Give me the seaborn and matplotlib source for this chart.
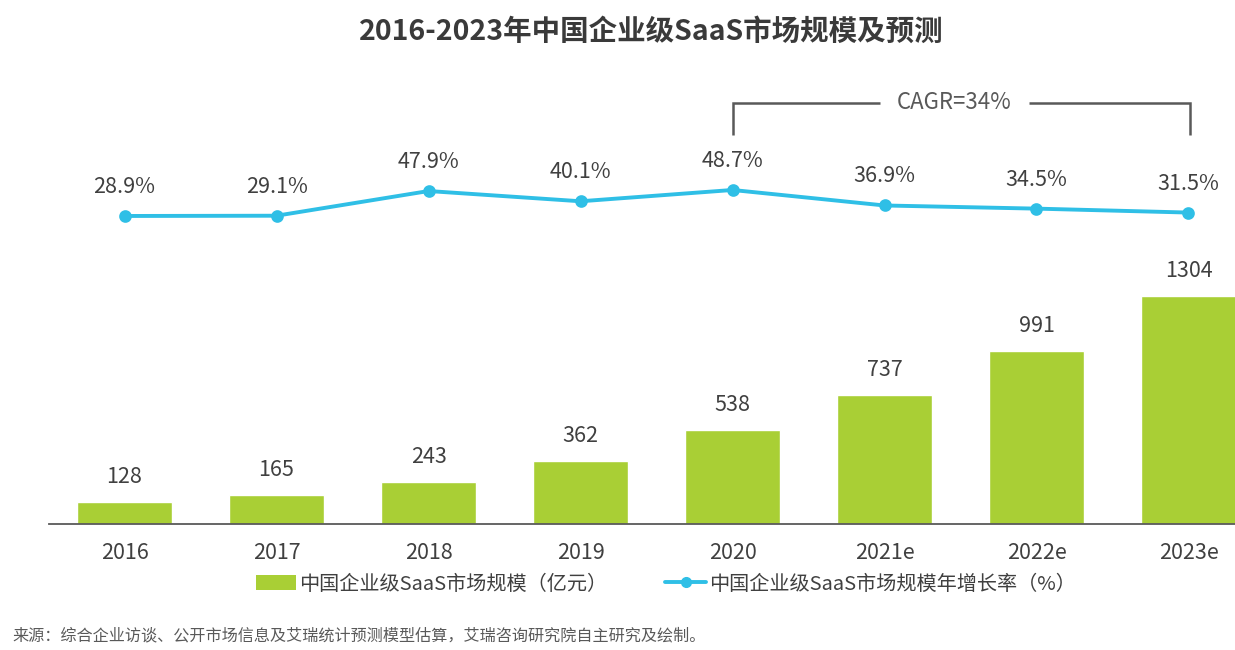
import matplotlib
matplotlib.use("Agg")
import matplotlib.pyplot as plt
import seaborn as sns
import pandas as pd
from matplotlib.patches import Patch
from matplotlib.lines import Line2D

# ---- data ----
years = ["2016", "2017", "2018", "2019", "2020", "2021e", "2022e", "2023e"]
market_size = [128, 165, 243, 362, 538, 737, 991, 1304]
growth_rate = [28.9, 29.1, 47.9, 40.1, 48.7, 36.9, 34.5, 31.5]
title = "2016-2023年中国企业级SaaS市场规模及预测"
bar_label = "中国企业级SaaS市场规模（亿元）"
line_label = "中国企业级SaaS市场规模年增长率（%）"
cagr_text = "CAGR=34%"
source_text = "来源：综合企业访谈、公开市场信息及艾瑞统计预测模型估算，艾瑞咨询研究院自主研究及绘制。"

GREEN = "#A9CF35"
CYAN = "#2FBFE6"
TXT = "#404040"
GRAY = "#595959"

sns.set_theme(style="white")
plt.rcParams["font.family"] = ["Noto Sans CJK SC", "DejaVu Sans"]

df = pd.DataFrame({"year": years, "size": market_size, "growth": growth_rate})

W, H = 1235, 650
fig = plt.figure(figsize=(W / 100, H / 100), dpi=100)
ax = fig.add_axes([49 / W, 126 / H, (W - 49) / W, 464 / H])

sns.barplot(data=df, x="year", y="size", color=GREEN, width=0.625,
            saturation=1, ax=ax)
for i, v in enumerate(market_size):
    ax.annotate(str(v), (i, v), xytext=(0, 10), textcoords="offset points",
                ha="center", va="bottom", fontsize=15.5, color=TXT)

ax.set_ylim(0, 2654)
ax.set_xlim(-0.497, 7.306)
ax.set_xlabel("")
ax.set_ylabel("")
ax.set_yticks([])
for s in ["top", "right", "left"]:
    ax.spines[s].set_visible(False)
ax.spines["bottom"].set_color(GRAY)
ax.spines["bottom"].set_linewidth(1.3)
ax.tick_params(axis="x", length=0, pad=13, labelsize=15.5, labelcolor=TXT)

ax2 = ax.twinx()
sns.pointplot(data=df, x="year", y="growth", color=CYAN, markers="o",
              linestyles="-", markersize=7, linewidth=2.8, ax=ax2)
for i, v in enumerate(growth_rate):
    ax2.annotate(f"{v}%", (i, v), xytext=(0, 13), textcoords="offset points",
                 ha="center", va="bottom", fontsize=15.5, color=TXT)
ax2.set_ylim(-205.7, 147.7)
ax2.set_xlim(-0.497, 7.306)
ax2.set_yticks([])
ax2.set_ylabel("")
ax2.set_xlabel("")
for s in ["top", "right", "left", "bottom"]:
    ax2.spines[s].set_visible(False)

# CAGR bracket from 2020 to 2023e
x0, x1 = years.index("2020"), years.index("2023e") + 0.01
ytop, ybot = 114.9, 90.6
xm = (x0 + x1) / 2 - 0.045
gap = 0.49
ax2.plot([x0, x0, xm - gap], [ybot, ytop, ytop], color=GRAY, lw=1.8,
         solid_capstyle="butt", solid_joinstyle="miter", clip_on=False)
ax2.plot([xm + gap, x1, x1], [ytop, ytop, ybot], color=GRAY, lw=1.8,
         solid_capstyle="butt", solid_joinstyle="miter", clip_on=False)
ax2.text(xm, ytop + 0.8, cagr_text, ha="center", va="center",
         fontsize=16, color=GRAY)

fig.text(0.527, 1 - 32 / H, title, ha="center", va="center",
         fontsize=20.5, fontweight="bold", color="#3a3a3a")

handles = [Patch(facecolor=GREEN, edgecolor="none"),
           Line2D([0], [0], color=CYAN, lw=2.8, marker="o", markersize=7)]
fig.legend(handles, [bar_label, line_label], loc="center",
           bbox_to_anchor=(0.539, 1 - 584 / H), ncol=2, frameon=False,
           fontsize=14.5, labelcolor=TXT, handlelength=2.0, handleheight=0.75,
           handletextpad=0.15, columnspacing=2.9)

fig.text(12 / W, 1 - 636 / H, source_text, ha="left", va="center",
         fontsize=11.6, color=GRAY)

fig.savefig("out.png", dpi=100, facecolor="white")
